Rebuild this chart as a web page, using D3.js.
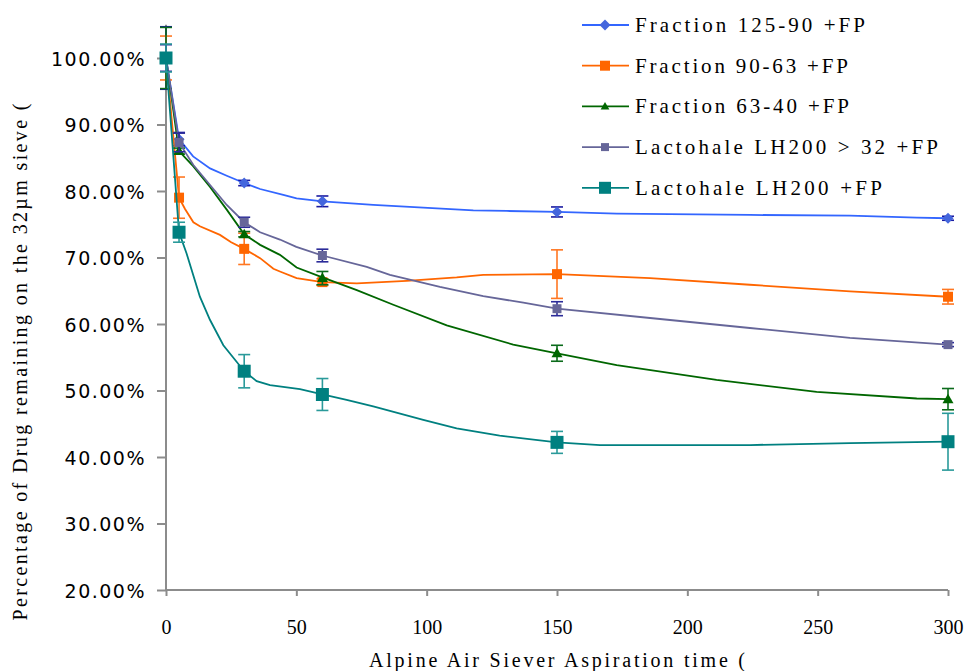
<!DOCTYPE html>
<html><head><meta charset="utf-8">
<script src="https://cdn.jsdelivr.net/npm/d3@7"></script>
<style>
body{margin:0;background:#fff}svg{display:block}
</style>
</head><body>
<svg id="chart" width="970" height="671"></svg>
<script>
// ---- data ----
const seriesNames = ["Fraction 125-90 +FP","Fraction 90-63 +FP","Fraction 63-40 +FP","Lactohale LH200 > 32 +FP","Lactohale LH200 +FP"];
const times = [0,5,30,60,150,300];
const blueVals   = [100,87.8,81.2,78.45,76.85,75.9];
const orangeVals = [100,79.0,71.3,66.3,67.5,64.1];
const greenVals  = [100,86.0,73.5,66.9,55.6,48.7];
const purpleVals = [100,87.3,75.3,70.3,62.3,56.9];
const tealVals   = [100,73.8,52.9,49.4,42.2,42.3];
const blueErr   = [4.7,1.0,0.4,0.8,0.75,0.3];
const orangeErr = [3.3,3.1,2.35,0.5,3.65,1.1];
const greenErr  = [4.6,0.45,0.4,1.0,1.2,1.6];
const purpleErr = [2.0,1.4,0.75,0.95,1.05,0.3];
const tealErr   = [2.1,1.5,2.5,2.4,1.65,4.27];
// traced line paths [time, %]
const bluePath = [[0,100],[5,87.8],[10.4,85.2],[16.9,83.4],[23.3,82.3],[30,81.2],[36.1,80.3],[45,79.4],[50.1,78.9],[60,78.45],[79.5,77.9],[98.7,77.5],[117.9,77.1],[130.7,77.0],[150,76.85],[172.9,76.6],[224,76.4],[262.4,76.3],[288,76.0],[300,75.9]];
const orangePath = [[0,100],[5,79.0],[7.3,77.3],[10.5,75.3],[13,74.7],[20.7,73.4],[25,72.3],[30,71.3],[36.1,69.9],[41.2,68.3],[43.7,67.9],[50.1,66.9],[60,66.3],[73.2,66.1],[92.3,66.5],[111.5,67.0],[121.7,67.4],[150,67.5],[185.7,66.9],[224,65.9],[262.4,64.9],[300,64.1]];
const greenPath = [[0,100],[5,86.0],[10.5,83.7],[16.9,80.6],[23.3,77.2],[30,73.5],[36.1,71.9],[43.7,70.4],[50.1,68.5],[60,67.0],[73.2,65.1],[87.2,62.9],[107.7,59.8],[133.2,56.9],[150,55.6],[172.9,53.8],[211.2,51.6],[249.6,49.8],[288,48.8],[300,48.7]];
const purplePath = [[0,100],[5,87.3],[10.5,83.9],[16.9,80.9],[23.3,77.9],[30,75.3],[36.1,73.8],[43.7,72.7],[50,71.6],[60,70.3],[77,68.6],[85.9,67.4],[105.1,65.6],[121.7,64.2],[137.1,63.2],[150,62.3],[185.7,60.9],[224,59.4],[262.4,57.9],[300,56.9]];
const tealPath = [[0,100],[5,73.8],[7.9,70.6],[13,64.1],[16.9,60.6],[22,56.8],[30,52.9],[34.8,51.4],[39.9,50.8],[51.4,50.2],[60,49.4],[69.3,48.6],[79.5,47.6],[98.7,45.6],[111.5,44.3],[128,43.2],[150,42.2],[166.5,41.8],[224,41.8],[262.4,42.1],[300,42.3]];
const xTicks = [0,50,100,150,200,250,300];
const yTicks = [20,30,40,50,60,70,80,90,100];
const xTitle = "Alpine Air Siever Aspiration time (";
const yTitle = "Percentage of Drug remaining on the 32\u00b5m sieve (";

const styles = [
  {vals:blueVals, err:blueErr, path:bluePath, line:"#3366FF", fill:"#4466DD", ebar:"#1a1aa0", shape:"diamond", size:11, legSize:11, legW:230},
  {vals:orangeVals, err:orangeErr, path:orangePath, line:"#FF6600", fill:"#FF6600", ebar:"#FF7722", shape:"square", size:10, legSize:10, legW:213},
  {vals:greenVals, err:greenErr, path:greenPath, line:"#006600", fill:"#006600", ebar:"#0b6b1b", shape:"triangle", size:10, legSize:8, legW:214},
  {vals:purpleVals, err:purpleErr, path:purplePath, line:"#666699", fill:"#666699", ebar:"#2b2b99", shape:"square", size:9, legSize:8, legW:303},
  {vals:tealVals, err:tealErr, path:tealPath, line:"#008080", fill:"#008080", ebar:"#2a9a9a", shape:"square", size:13, legSize:12, legW:247}
];

const serif = "Liberation Serif, Times New Roman, serif";
const svg = d3.select("#chart");
const x = d3.scaleLinear().domain([0,300]).range([166,948]);
const y = d3.scaleLinear().domain([20,105]).range([590,24.75]);
const axisColor = "#8c8c8c";

const gx = svg.append("g").attr("transform","translate(0,590)")
  .call(d3.axisBottom(x).tickValues(xTicks).tickSize(6).tickFormat(d3.format("d")));
gx.select(".domain").attr("d", `M${x(0)},0H${x(300)}`);
gx.selectAll("path,line").attr("stroke",axisColor).attr("stroke-width",2);
gx.selectAll("text").attr("font-family",serif).attr("font-size",20).attr("fill","#000").attr("y",30).attr("dy","0.71em");

const gy = svg.append("g").attr("transform","translate(166,0)")
  .call(d3.axisLeft(y).tickValues(yTicks).tickSize(9).tickFormat(d => d.toFixed(2)+"%"));
gy.select(".domain").attr("d", `M0,${y(105)}V${y(20)}`);
gy.selectAll("path,line").attr("stroke",axisColor).attr("stroke-width",2);
gy.selectAll("text").attr("font-family","DejaVu Sans, Verdana, sans-serif").attr("font-size",19).attr("fill","#000").attr("x",-20).attr("dy","0.38em").attr("letter-spacing","1.5px");

svg.append("text").attr("font-family",serif).attr("x",557).attr("y",667).attr("text-anchor","middle")
  .attr("font-size",20).attr("textLength",376).attr("lengthAdjust","spacing").text(xTitle);
svg.append("text").attr("font-family",serif).attr("transform","translate(27,362) rotate(-90)").attr("text-anchor","middle")
  .attr("font-size",20).attr("textLength",517).attr("lengthAdjust","spacing").text(yTitle);

function shapePath(shape,s){
  if(shape==="diamond") return `M0,${-s/2}L${s/2},0L0,${s/2}L${-s/2},0Z`;
  if(shape==="triangle") return `M0,${-s*0.55}L${s*0.55},${s*0.4}L${-s*0.55},${s*0.4}Z`;
  return `M${-s/2},${-s/2}h${s}v${s}h${-s}Z`;
}
const lineGen = d3.line().x(d=>x(d[0])).y(d=>y(d[1]));

styles.forEach((st,i)=>{
  const g = svg.append("g");
  g.append("path").attr("d",lineGen(st.path)).attr("fill","none").attr("stroke",st.line).attr("stroke-width",1.8);
  times.forEach((t,j)=>{
    const cx = x(t), y1 = y(st.vals[j]+st.err[j]), y2 = y(st.vals[j]-st.err[j]);
    g.append("line").attr("x1",cx).attr("x2",cx).attr("y1",y1).attr("y2",y2).attr("stroke",st.ebar).attr("stroke-width",1.6);
    [y1,y2].forEach(yy=>g.append("line").attr("x1",cx-6).attr("x2",cx+6).attr("y1",yy).attr("y2",yy).attr("stroke",st.ebar).attr("stroke-width",1.6));
  });
  times.forEach((t,j)=>{
    g.append("path").attr("d",shapePath(st.shape,st.size)).attr("transform",`translate(${x(t)},${y(st.vals[j])})`).attr("fill",st.fill);
  });
  const ly = 25 + i*40.7;
  const lg = svg.append("g");
  lg.append("line").attr("x1",582).attr("x2",629).attr("y1",ly).attr("y2",ly).attr("stroke",st.line).attr("stroke-width",1.8);
  lg.append("path").attr("d",shapePath(st.shape, st.legSize)).attr("transform",`translate(605,${ly})`).attr("fill",st.fill);
  lg.append("text").attr("font-family",serif).attr("x",635).attr("y",ly+7)
    .attr("font-size",21).attr("textLength",st.legW).attr("lengthAdjust","spacing").text(seriesNames[i]);
});
</script>
</body></html>
